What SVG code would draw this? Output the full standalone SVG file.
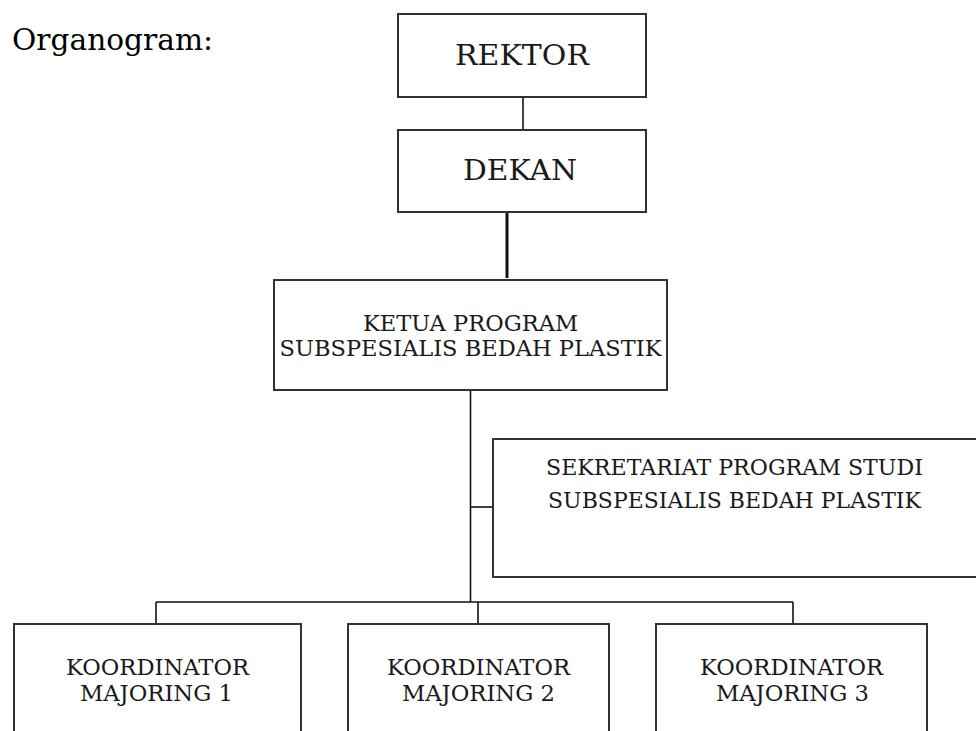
<svg xmlns="http://www.w3.org/2000/svg" width="976" height="731" viewBox="0 0 976 731">
<style>
.box{fill:#fff;stroke:#333;stroke-width:2}
.t{font-family:"DejaVu Serif","Liberation Serif",serif;fill:#1a1a1a;text-anchor:middle}
.big{font-size:27px}
.sm{font-size:22px}
.ln{stroke:#111;stroke-width:1.6;fill:none}
</style>
<rect width="976" height="731" fill="#fff"/>
<text x="12" y="50" font-family="'DejaVu Serif','Liberation Serif',serif" font-size="30" fill="#000" textLength="201" lengthAdjust="spacingAndGlyphs">Organogram:</text>
<g id="connectors">
<line class="ln" x1="523" y1="97" x2="523" y2="130"/>
<line class="ln" x1="507" y1="212" x2="507" y2="278" style="stroke-width:3"/>
<line class="ln" x1="470.5" y1="390" x2="470.5" y2="602"/>
<line class="ln" x1="470.5" y1="507" x2="493" y2="507"/>
<line class="ln" x1="156" y1="602" x2="793" y2="602"/>
<line class="ln" x1="156" y1="602" x2="156" y2="624"/>
<line class="ln" x1="478" y1="602" x2="478" y2="624"/>
<line class="ln" x1="793" y1="602" x2="793" y2="624"/>
</g>
<g id="rektor">
<rect class="box" x="398" y="14" width="248" height="83"/>
<text class="t big" x="522" y="65" textLength="134" lengthAdjust="spacingAndGlyphs">REKTOR</text>
</g>
<g id="dekan">
<rect class="box" x="398" y="130" width="248" height="82"/>
<text class="t big" x="520" y="180" textLength="114" lengthAdjust="spacingAndGlyphs">DEKAN</text>
</g>
<g id="ketua">
<rect class="box" x="274" y="280" width="393" height="110"/>
<text class="t sm" x="470.5" y="331" textLength="215" lengthAdjust="spacingAndGlyphs">KETUA PROGRAM</text>
<text class="t sm" x="470.5" y="356" textLength="382" lengthAdjust="spacingAndGlyphs">SUBSPESIALIS BEDAH PLASTIK</text>
</g>
<g id="sekretariat">
<rect class="box" x="493" y="439" width="490" height="138"/>
<text class="t sm" x="734.5" y="475" textLength="377" lengthAdjust="spacingAndGlyphs">SEKRETARIAT PROGRAM STUDI</text>
<text class="t sm" x="734.5" y="508" textLength="373" lengthAdjust="spacingAndGlyphs">SUBSPESIALIS BEDAH PLASTIK</text>
</g>
<g id="koordinator1">
<rect class="box" x="14" y="624" width="287" height="120"/>
<text class="t sm" x="157.5" y="675" textLength="183" lengthAdjust="spacingAndGlyphs">KOORDINATOR</text>
<text class="t sm" x="156.5" y="701" textLength="153" lengthAdjust="spacingAndGlyphs">MAJORING 1</text>
</g>
<g id="koordinator2">
<rect class="box" x="348" y="624" width="261" height="120"/>
<text class="t sm" x="478.5" y="675" textLength="183" lengthAdjust="spacingAndGlyphs">KOORDINATOR</text>
<text class="t sm" x="478.5" y="701" textLength="153" lengthAdjust="spacingAndGlyphs">MAJORING 2</text>
</g>
<g id="koordinator3">
<rect class="box" x="656" y="624" width="271" height="120"/>
<text class="t sm" x="791.5" y="675" textLength="183" lengthAdjust="spacingAndGlyphs">KOORDINATOR</text>
<text class="t sm" x="792.5" y="701" textLength="153" lengthAdjust="spacingAndGlyphs">MAJORING 3</text>
</g>
</svg>
